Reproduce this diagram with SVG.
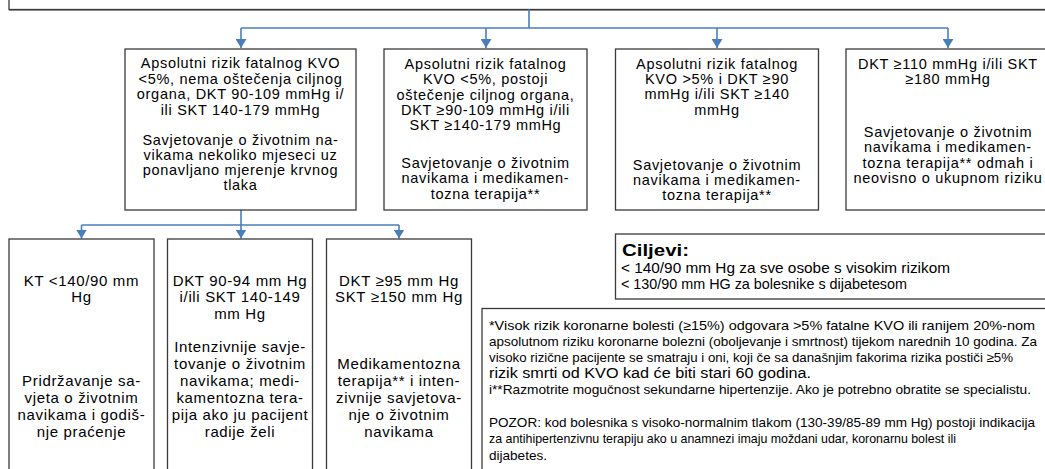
<svg xmlns="http://www.w3.org/2000/svg" width="1045" height="469" viewBox="0 0 1045 469">
<style>
.box{fill:#fff;stroke:#3a3a3a;stroke-width:1.3}
.conn{fill:none;stroke:#4a7ebb;stroke-width:1.6}
.t1{font-family:"Liberation Sans",Arial,sans-serif;font-size:14.5px;letter-spacing:0.7px;fill:#000;text-anchor:middle}
.t2{font-family:"Liberation Sans",Arial,sans-serif;font-size:15px;letter-spacing:0.65px;fill:#000;text-anchor:middle}
.tn{font-family:"Liberation Sans",Arial,sans-serif;font-size:13px;fill:#000}
.tc{font-family:"Liberation Sans",Arial,sans-serif;font-size:14.5px;fill:#000}
.th{font-family:"Liberation Sans",Arial,sans-serif;font-size:17px;font-weight:bold;fill:#000}
</style>
<defs>
<marker id="ah" viewBox="0 0 9 11" refX="9" refY="5.5" markerWidth="9" markerHeight="11" markerUnits="userSpaceOnUse" orient="auto">
<path d="M0,0 L9,5.5 L0,11 z" fill="#4a7ebb"/>
</marker>
</defs>
<rect width="1045" height="469" fill="#fff"/>

<g id="top">
<line x1="9" y1="10.5" x2="1045" y2="10.5" stroke="#9a9a9a" stroke-width="1"/>
<rect class="box" x="9" y="-10" width="1050" height="19.5"/>
</g>

<g id="connectors">
<path class="conn" d="M529,9.5 V28 M241,28 H948"/>
<path class="conn" d="M241,28 V48" marker-end="url(#ah)"/>
<path class="conn" d="M486,28 V48" marker-end="url(#ah)"/>
<path class="conn" d="M717,28 V48" marker-end="url(#ah)"/>
<path class="conn" d="M948,28 V48" marker-end="url(#ah)"/>
<path class="conn" d="M241,210 V225 M81.5,225 H399"/>
<path class="conn" d="M81.5,225 V238.5" marker-end="url(#ah)"/>
<path class="conn" d="M241,225 V238.5" marker-end="url(#ah)"/>
<path class="conn" d="M399,225 V238.5" marker-end="url(#ah)"/>
</g>

<g id="n1">
<rect class="box" x="125" y="49" width="231" height="161"/>
<text class="t1" x="240.5" y="68.3">Apsolutni rizik fatalnog KVO</text>
<text class="t1" x="240.5" y="83.8">&lt;5%, nema oštečenja ciljnog</text>
<text class="t1" x="240.5" y="99.2">organa, DKT 90-109 mmHg i/</text>
<text class="t1" x="240.5" y="114.5">ili SKT 140-179 mmHg</text>
<text class="t1" x="240.5" y="144.5">Savjetovanje o životnim na-</text>
<text class="t1" x="240.5" y="159.8">vikama nekoliko mjeseci uz</text>
<text class="t1" x="240.5" y="175.1">ponavljano mjerenje krvnog</text>
<text class="t1" x="240.5" y="190.4">tlaka</text>
</g>

<g id="n2">
<rect class="box" x="384" y="49" width="203" height="161"/>
<text class="t1" x="485.5" y="68.7">Apsolutni rizik fatalnog</text>
<text class="t1" x="485.5" y="84.1">KVO &lt;5%, postoji</text>
<text class="t1" x="485.5" y="99.5">oštečenje ciljnog organa,</text>
<text class="t1" x="485.5" y="114.9">DKT ≥90-109 mmHg i/ili</text>
<text class="t1" x="485.5" y="130.3">SKT ≥140-179 mmHg</text>
<text class="t1" x="485.5" y="168">Savjetovanje o životnim</text>
<text class="t1" x="485.5" y="183.3">navikama i medikamen-</text>
<text class="t1" x="485.5" y="198.6">tozna terapija**</text>
</g>

<g id="n3">
<rect class="box" x="615.5" y="49" width="203" height="161"/>
<text class="t1" x="717" y="68.5">Apsolutni rizik fatalnog</text>
<text class="t1" x="717" y="83.8">KVO &gt;5% i DKT ≥90</text>
<text class="t1" x="717" y="99.2">mmHg i/ili SKT ≥140</text>
<text class="t1" x="717" y="114.6">mmHg</text>
<text class="t1" x="717" y="169.5">Savjetovanje o životnim</text>
<text class="t1" x="717" y="184.8">navikama i medikamen-</text>
<text class="t1" x="717" y="200.1">tozna terapija**</text>
</g>

<g id="n4">
<rect class="box" x="846" y="49" width="210" height="161"/>
<text class="t1" x="948" y="68.5">DKT ≥110 mmHg i/ili SKT</text>
<text class="t1" x="948" y="83.8">≥180 mmHg</text>
<text class="t1" x="948" y="137">Savjetovanje o životnim</text>
<text class="t1" x="948" y="152.3">navikama i medikamen-</text>
<text class="t1" x="948" y="167.6">tozna terapija** odmah i</text>
<text class="t1" x="948" y="182.9">neovisno o ukupnom riziku</text>
</g>

<g id="n5">
<rect class="box" x="9" y="239" width="145" height="245"/>
<text class="t2" x="81.5" y="285.7">KT &lt;140/90 mm</text>
<text class="t2" x="81.5" y="302.3">Hg</text>
<text class="t2" x="81.5" y="386">Pridržavanje sa-</text>
<text class="t2" x="81.5" y="403.2">vjeta o životnim</text>
<text class="t2" x="81.5" y="420.2">navikama i godiš-</text>
<text class="t2" x="81.5" y="437.3">nje praćenje</text>
</g>

<g id="n6">
<rect class="box" x="167.5" y="239" width="145" height="245"/>
<text class="t2" x="240" y="285.7">DKT 90-94 mm Hg</text>
<text class="t2" x="240" y="302.3">i/ili SKT 140-149</text>
<text class="t2" x="240" y="319">mm Hg</text>
<text class="t2" x="240" y="351.7">Intenzivnije savje-</text>
<text class="t2" x="240" y="369">tovanje o životnim</text>
<text class="t2" x="240" y="386">navikama; medi-</text>
<text class="t2" x="240" y="403.2">kamentozna tera-</text>
<text class="t2" x="240" y="420.2">pija ako ju pacijent</text>
<text class="t2" x="240" y="437.3">radije želi</text>
</g>

<g id="n7">
<rect class="box" x="326.5" y="239" width="145" height="245"/>
<text class="t2" x="399" y="285.7">DKT ≥95 mm Hg</text>
<text class="t2" x="399" y="302.3">SKT ≥150 mm Hg</text>
<text class="t2" x="399" y="369.2">Medikamentozna</text>
<text class="t2" x="399" y="386">terapija** i inten-</text>
<text class="t2" x="399" y="403.2">zivnije savjetova-</text>
<text class="t2" x="399" y="420.2">nje o životnim</text>
<text class="t2" x="399" y="437.3">navikama</text>
</g>

<g id="goals">
<rect class="box" x="615.5" y="234" width="440" height="65"/>
<text class="th" x="622" y="255.5" textLength="67" lengthAdjust="spacingAndGlyphs">Ciljevi:</text>
<text class="tc" x="621" y="273.3" textLength="329" lengthAdjust="spacingAndGlyphs">&lt; 140/90 mm Hg za sve osobe s visokim rizikom</text>
<text class="tc" x="621" y="288.5" textLength="286" lengthAdjust="spacingAndGlyphs">&lt; 130/90 mm HG za bolesnike s dijabetesom</text>
</g>

<g id="notes">
<rect class="box" x="482" y="308.5" width="580" height="180"/>
<text class="tn" x="489" y="329.5" textLength="546" lengthAdjust="spacingAndGlyphs">*Visok rizik koronarne bolesti (≥15%) odgovara &gt;5% fatalne KVO  ili ranijem 20%-nom</text>
<text class="tn" x="489" y="345.8" textLength="548" lengthAdjust="spacingAndGlyphs">apsolutnom riziku koronarne bolezni (oboljevanje i smrtnost) tijekom narednih 10 godina. Za</text>
<text class="tn" x="489" y="362" textLength="524" lengthAdjust="spacingAndGlyphs">visoko rizične pacijente se smatraju i oni, koji če sa današnjim fakorima rizika postiči ≥5%</text>
<text class="tn" x="489" y="378.2" textLength="322" lengthAdjust="spacingAndGlyphs" style="font-size:14px">rizik smrti od KVO kad će biti stari 60 godina.</text>
<text class="tn" x="489" y="394.3" textLength="542" lengthAdjust="spacingAndGlyphs">i**Razmotrite mogučnost sekundarne hipertenzije. Ako je potrebno obratite se specialistu.</text>
<text class="tn" x="489" y="427" textLength="546" lengthAdjust="spacingAndGlyphs">POZOR: kod bolesnika s visoko-normalnim tlakom (130-39/85-89 mm Hg) postoji indikacija</text>
<text class="tn" x="489" y="443.4" textLength="467" lengthAdjust="spacingAndGlyphs">za antihipertenzivnu terapiju ako u anamnezi imaju moždani udar, koronarnu bolest ili</text>
<text class="tn" x="489" y="459.7" textLength="58" lengthAdjust="spacingAndGlyphs">dijabetes.</text>
</g>
</svg>
